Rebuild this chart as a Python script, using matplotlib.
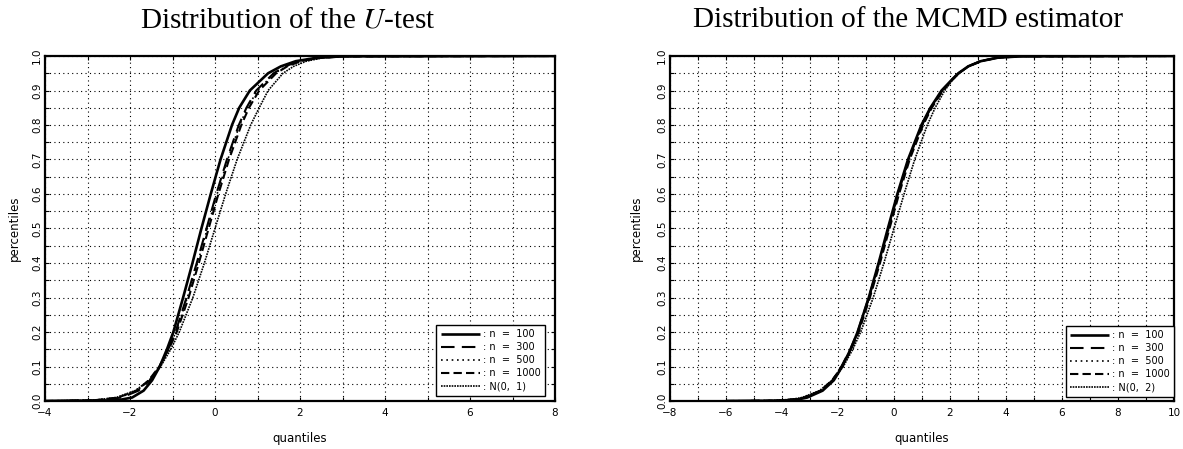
import matplotlib
matplotlib.use("Agg")
import matplotlib.pyplot as plt
from matplotlib.ticker import MultipleLocator, FormatStrFormatter

plt.rcParams['font.family'] = ['DejaVu Sans']
plt.rcParams['mathtext.fontset'] = 'stix'

# ---------------- data ----------------
# Left panel: distribution of the U-test
pct_u = [0.0, 0.002, 0.01, 0.03, 0.06, 0.1, 0.15, 0.2, 0.3, 0.4, 0.5, 0.6,
         0.7, 0.8, 0.85, 0.9, 0.95, 0.97, 0.985, 0.995, 0.999, 1.0]
u_n100 = [-4.0, -2.3, -1.95, -1.68, -1.48, -1.3, -1.13, -0.98, -0.75, -0.53, -0.32, -0.1,
          0.13, 0.4, 0.57, 0.82, 1.25, 1.55, 1.9, 2.4, 3.0, 8.0]
u_n300 = [-4.0, -2.75, -2.2, -1.8, -1.53, -1.3, -1.1, -0.93, -0.67, -0.43, -0.2, 0.03,
          0.28, 0.56, 0.74, 0.97, 1.38, 1.65, 1.98, 2.45, 3.05, 8.0]
u_n500 = [-4.0, -2.8, -2.25, -1.83, -1.55, -1.31, -1.1, -0.92, -0.65, -0.41, -0.18, 0.05,
          0.3, 0.58, 0.76, 1.0, 1.4, 1.68, 2.0, 2.48, 3.1, 8.0]
u_n1000 = [-4.0, -2.85, -2.28, -1.85, -1.56, -1.31, -1.09, -0.9, -0.62, -0.38, -0.15, 0.08,
           0.33, 0.62, 0.8, 1.04, 1.44, 1.7, 2.02, 2.5, 3.1, 8.0]
u_norm = [-4.0, -2.88, -2.33, -1.88, -1.55, -1.28, -1.04, -0.84, -0.52, -0.25, 0.0, 0.25,
          0.52, 0.84, 1.04, 1.25, 1.6, 1.85, 2.15, 2.55, 3.1, 8.0]

# Right panel: distribution of the MCMD estimator
pct_m = [0.0, 0.001, 0.005, 0.01, 0.03, 0.06, 0.1, 0.15, 0.2, 0.3, 0.4, 0.5, 0.6,
         0.7, 0.8, 0.85, 0.9, 0.93, 0.95, 0.97, 0.985, 0.995, 0.999, 1.0]
m_n100 = [-6.0, -4.0, -3.4, -3.1, -2.55, -2.15, -1.85, -1.55, -1.3, -0.9, -0.55, -0.22, 0.12,
          0.5, 0.98, 1.3, 1.7, 2.05, 2.3, 2.65, 3.1, 3.7, 4.5, 10.0]
m_n300 = [-6.0, -4.1, -3.45, -3.15, -2.6, -2.2, -1.88, -1.56, -1.3, -0.9, -0.54, -0.2, 0.14,
          0.52, 1.0, 1.32, 1.72, 2.05, 2.3, 2.65, 3.1, 3.7, 4.5, 10.0]
m_n500 = [-6.0, -4.2, -3.5, -3.2, -2.62, -2.2, -1.87, -1.55, -1.28, -0.88, -0.52, -0.18, 0.16,
          0.54, 1.02, 1.33, 1.73, 2.06, 2.3, 2.66, 3.1, 3.7, 4.5, 10.0]
m_n1000 = [-6.0, -4.25, -3.55, -3.22, -2.63, -2.21, -1.86, -1.53, -1.26, -0.86, -0.5, -0.16, 0.18,
           0.56, 1.04, 1.35, 1.75, 2.07, 2.31, 2.66, 3.1, 3.7, 4.5, 10.0]
m_norm = [-6.0, -4.37, -3.64, -3.29, -2.66, -2.2, -1.81, -1.47, -1.19, -0.74, -0.36, 0.0, 0.36,
          0.74, 1.19, 1.47, 1.81, 2.09, 2.33, 2.66, 3.07, 3.64, 4.37, 10.0]

labels_u = [": n  =  100", ": n  =  300", ": n  =  500", ": n  =  1000", ": N(0,  1)"]
labels_m = [": n  =  100", ": n  =  300", ": n  =  500", ": n  =  1000", ": N(0,  2)"]
titles = ["Distribution of the $U$-test", "Distribution of the MCMD estimator"]

styles = [
    dict(ls='-', lw=1.9),
    dict(ls=(0, (6.5, 3.5)), lw=1.5),
    dict(ls=(0, (1, 2.2)), lw=1.2),
    dict(ls=(0, (4, 2)), lw=1.5),
    dict(ls=(0, (1, 0.6)), lw=1.2),
]

fig = plt.figure(figsize=(11.83, 4.49), dpi=100)
W, H = 1183, 449
ax1 = fig.add_axes([45 / W, (H - 401) / H, 510 / W, 345 / H])
ax2 = fig.add_axes([670 / W, (H - 401) / H, 504 / W, 345 / H])


def setup(ax, xlim, labels, curves, pct, legend_anchor, ylab_x, title, title_x):
    for xs, lab, st in zip(curves, labels, styles):
        ax.plot(xs, pct, color='black', label=lab, solid_capstyle='butt',
                dash_capstyle='butt', **st)
    ax.set_xlim(*xlim)
    ax.set_ylim(0, 1)
    ax.xaxis.set_major_locator(MultipleLocator(2))
    ax.xaxis.set_minor_locator(MultipleLocator(1))
    ax.yaxis.set_major_locator(MultipleLocator(0.1))
    ax.yaxis.set_minor_locator(MultipleLocator(0.05))
    ax.yaxis.set_major_formatter(FormatStrFormatter('%.1f'))
    ax.grid(True, which='both', color='black', ls=(0, (1, 3)), lw=0.8)
    ax.tick_params(which='both', direction='in', top=True, right=True,
                   length=3, width=0.8, labelsize=7.5)
    ax.tick_params(axis='x', pad=5)
    ax.tick_params(axis='y', pad=2)
    for t in ax.get_yticklabels():
        t.set_rotation(90)
        t.set_va('center')
    for s in ax.spines.values():
        s.set_linewidth(1.6)
    ax.set_xlabel("quantiles", fontsize=8.5)
    ax.set_ylabel("percentiles", fontsize=8.5)
    ax.xaxis.set_label_coords(0.5, -0.09)
    ax.yaxis.set_label_coords(ylab_x, 0.5)
    leg = ax.legend(loc='lower right', bbox_to_anchor=legend_anchor,
                    prop={'family': 'DejaVu Sans', 'size': 7},
                    frameon=True, fancybox=False, shadow=False,
                    handlelength=4.0, handletextpad=0.3, labelspacing=0.32,
                    borderpad=0.45, borderaxespad=0)
    leg.get_frame().set_edgecolor('black')
    leg.get_frame().set_linewidth(1.0)
    leg.get_frame().set_alpha(1)
    fig.text(title_x, 1 - 20 / H, title, ha='center', va='center',
             fontsize=21, family='Liberation Serif')


setup(ax1, (-4, 8), labels_u, [u_n100, u_n300, u_n500, u_n1000, u_norm], pct_u,
      (0.98, 0.015), -0.047, titles[0], 288 / W)
setup(ax2, (-8, 10), labels_m, [m_n100, m_n300, m_n500, m_n1000, m_norm], pct_m,
      (1.0, 0.012), -0.054, titles[1], 908 / W)

fig.savefig("out.png", dpi=100, facecolor='white')
